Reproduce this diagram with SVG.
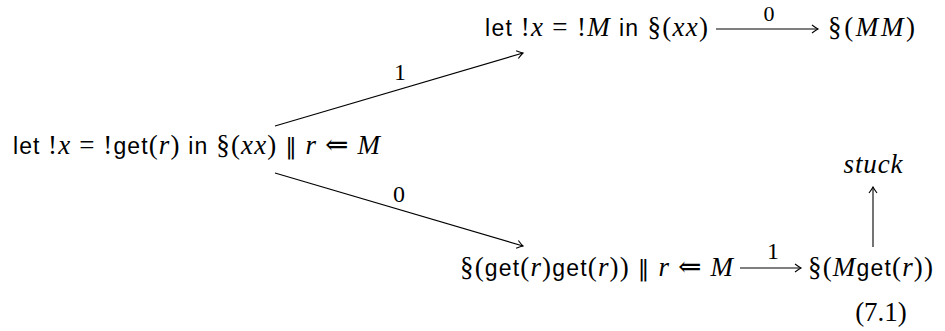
<svg xmlns="http://www.w3.org/2000/svg" width="945" height="331" viewBox="0 0 945 331">
<defs>
<style>
text{font-family:"Liberation Serif","DejaVu Serif",serif;font-size:27px;fill:#000}
.sf{font-family:"Liberation Sans","DejaVu Sans",sans-serif;font-size:23px}
.it{font-style:italic}
.sy{font-family:"DejaVu Serif",serif;font-size:23px}
.ar{font-family:"DejaVu Serif",serif;font-size:28px}
.lbl{font-size:24px;text-anchor:middle}
.edge{stroke:#000;stroke-width:1.1;fill:none;marker-end:url(#ah)}
</style>
<marker id="ah" viewBox="-8 -5 10 10" refX="0" refY="0" markerWidth="10" markerHeight="10" markerUnits="userSpaceOnUse" orient="auto">
<path d="M-6,-4 Q-2,-1 0,0 Q-2,1 -6,4" stroke="#000" stroke-width="1.1" fill="none"/>
</marker>
</defs>
<rect width="945" height="331" fill="#fff"/>
<g id="connectors">
<line class="edge" x1="275" y1="126" x2="523" y2="53"/>
<line class="edge" x1="275" y1="173" x2="523" y2="246"/>
<line class="edge" x1="716" y1="29" x2="818" y2="29"/>
<line class="edge" x1="740" y1="268" x2="801" y2="268"/>
<line class="edge" x1="873" y1="247" x2="873" y2="187"/>
<text class="lbl" x="400" y="80">1</text>
<text class="lbl" x="399" y="202">0</text>
<text class="lbl" x="769" y="21" style="font-size:22px">0</text>
<text class="lbl" x="773" y="259">1</text>
</g>
<g id="n0">
<text x="13" y="154" textLength="367" lengthAdjust="spacing"><tspan class="sf">let </tspan>!<tspan class="it">x</tspan> = !<tspan class="sf">get</tspan>(<tspan class="it">r</tspan>) <tspan class="sf">in</tspan> §(<tspan class="it">xx</tspan>) <tspan class="sy">‖</tspan> <tspan class="it">r</tspan> <tspan class="ar">⇐</tspan> <tspan class="it">M</tspan></text>
</g>
<g id="n1">
<text x="485" y="36" textLength="223" lengthAdjust="spacing"><tspan class="sf">let </tspan>!<tspan class="it">x</tspan> = !<tspan class="it">M</tspan> <tspan class="sf">in</tspan> §(<tspan class="it">xx</tspan>)</text>
</g>
<g id="n2">
<text x="828" y="36" textLength="87" lengthAdjust="spacing">§(<tspan class="it">MM</tspan>)</text>
</g>
<g id="n3">
<text x="460" y="276" textLength="273" lengthAdjust="spacing">§(<tspan class="sf">get</tspan>(<tspan class="it">r</tspan>)<tspan class="sf">get</tspan>(<tspan class="it">r</tspan>)) <tspan class="sy">‖</tspan> <tspan class="it">r</tspan> <tspan class="ar">⇐</tspan> <tspan class="it">M</tspan></text>
</g>
<g id="n4">
<text x="808" y="276" textLength="125" lengthAdjust="spacing">§(<tspan class="it">M</tspan><tspan class="sf">get</tspan>(<tspan class="it">r</tspan>))</text>
</g>
<g id="n5">
<text class="it" x="873" y="173" text-anchor="middle" textLength="59" lengthAdjust="spacing">stuck</text>
</g>
<g id="eq">
<text x="881" y="321" text-anchor="middle">(7.1)</text>
</g>
</svg>
